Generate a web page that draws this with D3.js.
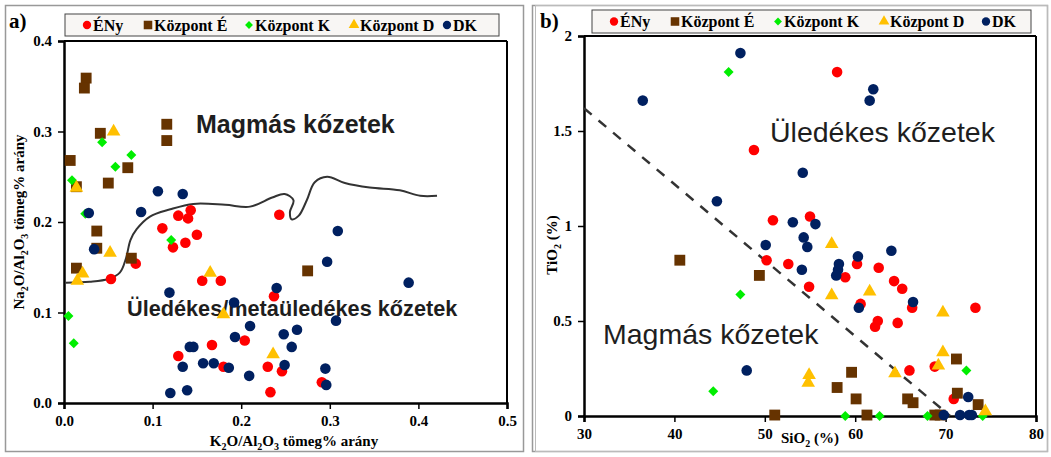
<!DOCTYPE html>
<html>
<head>
<meta charset="UTF-8">
<title>K2O/Al2O3 - TiO2 diagramok</title>
<style>
  body { margin: 0; background: #fff; }
  svg text { font-family: "Liberation Serif", "Times New Roman", serif; }
  .anno { font-family: "Liberation Sans", Arial, sans-serif; fill: #1e1e1e; }
</style>
</head>
<body>
<script src="https://cdn.jsdelivr.net/npm/d3@7"></script>
<script>
// ---- adatok: a) K2O/Al2O3 vs Na2O/Al2O3 ----
var seriesNames = ["ÉNy", "Központ É", "Központ K", "Központ D", "DK"]
var seriesColors = ["#ff0000", "#663300", "#00ee00", "#ffc000", "#002060"]

var aEny = [[0.143,0.213],[0.129,0.207],[0.140,0.204],[0.111,0.193],[0.150,0.186],[0.137,0.177],
  [0.123,0.172],[0.081,0.154],[0.053,0.137],[0.156,0.135],[0.177,0.135],[0.243,0.208],[0.237,0.118],
  [0.204,0.069],[0.167,0.064],[0.129,0.052],[0.180,0.040],[0.230,0.040],[0.246,0.035],[0.233,0.012],[0.291,0.023]]
var aKozE = [[0.025,0.359],[0.023,0.348],[0.041,0.298],[0.007,0.268],[0.072,0.260],[0.050,0.243],
  [0.014,0.239],[0.116,0.308],[0.116,0.290],[0.037,0.190],[0.037,0.171],[0.014,0.149],[0.076,0.160],[0.275,0.146]]
var aKozK = [[0.043,0.288],[0.076,0.274],[0.058,0.261],[0.009,0.246],[0.024,0.209],[0.005,0.096],
  [0.011,0.066],[0.121,0.180]]
var aKozD = [[0.056,0.301],[0.014,0.239],[0.052,0.167],[0.021,0.144],[0.015,0.136],[0.165,0.145],
  [0.180,0.099],[0.236,0.055]]
var aDK = [[0.106,0.234],[0.134,0.231],[0.087,0.211],[0.028,0.210],[0.034,0.170],[0.119,0.122],
  [0.192,0.111],[0.240,0.127],[0.309,0.190],[0.297,0.156],[0.389,0.133],[0.307,0.091],[0.210,0.085],
  [0.193,0.073],[0.263,0.081],[0.248,0.076],[0.257,0.062],[0.142,0.062],[0.146,0.062],[0.134,0.040],
  [0.157,0.044],[0.169,0.044],[0.186,0.039],[0.209,0.030],[0.249,0.042],[0.295,0.038],[0.296,0.020],
  [0.120,0.011],[0.139,0.014]]
// határvonal (magmás / üledékes)
var aBoundary = [[0.002,0.133],[0.029,0.134],[0.050,0.137],[0.063,0.144],[0.070,0.160],[0.075,0.180],
  [0.082,0.192],[0.097,0.206],[0.120,0.214],[0.146,0.220],[0.182,0.219],[0.210,0.217],[0.235,0.227],
  [0.249,0.231],[0.259,0.224],[0.255,0.211],[0.257,0.203],[0.265,0.207],[0.274,0.224],[0.283,0.244],
  [0.297,0.250],[0.317,0.243],[0.345,0.238],[0.379,0.235],[0.402,0.229],[0.421,0.229]]
var aXTicks = [0, 0.1, 0.2, 0.3, 0.4, 0.5]
var aYTicks = [0, 0.1, 0.2, 0.3, 0.4]

// ---- adatok: b) SiO2 vs TiO2 ----
var bEny = [[58.0,1.81],[48.8,1.40],[50.9,1.03],[55.0,1.05],[50.2,0.82],[52.6,0.80],[60.2,0.80],
  [58.9,0.73],[54.9,0.68],[62.6,0.78],[64.3,0.71],[65.2,0.67],[66.3,0.57],[60.6,0.59],[73.3,0.57],
  [62.5,0.50],[62.2,0.47],[64.7,0.49],[68.8,0.26],[66.0,0.24],[70.9,0.09]]
var bKozE = [[40.6,0.82],[49.4,0.74],[59.6,0.23],[58.0,0.15],[60.1,0.09],[65.8,0.09],[66.4,0.07],
  [71.2,0.30],[71.3,0.12],[73.6,0.06],[51.1,0.005],[61.3,0.005],[68.8,0.005],[69.4,0.005]]
var bKozK = [[46.0,1.81],[47.3,0.64],[44.3,0.13],[72.3,0.24],[58.9,0.0],[62.7,0.0],[68.0,0.0],[74.1,0.0]]
var bKozD = [[57.4,0.91],[57.4,0.64],[61.6,0.66],[69.7,0.55],[69.7,0.34],[69.2,0.27],[64.4,0.23],
  [54.9,0.22],[54.8,0.18],[74.4,0.03]]
var bDK = [[47.3,1.91],[36.5,1.66],[44.7,1.13],[62.0,1.72],[61.6,1.66],[54.2,1.28],[53.1,1.02],
  [55.6,1.01],[50.1,0.90],[54.3,0.94],[54.7,0.89],[60.3,0.84],[64.0,0.87],[54.1,0.77],[58.2,0.80],
  [58.1,0.77],[57.9,0.74],[66.4,0.60],[60.4,0.57],[48.0,0.24],[72.5,0.10],[69.8,0.005],[71.6,0.005],
  [72.6,0.005],[72.9,0.005]]
var bDivider = [[30, 1.62], [70.5, 0]]
var bXTicks = [30, 40, 50, 60, 70, 80]
var bYTicks = [0, 0.5, 1, 1.5, 2]

var W = 1051, H = 457
var svg = d3.select("body").append("svg").attr("width", W).attr("height", H)

// keretek
svg.append("rect").attr("x", 5.5).attr("y", 5.5).attr("width", 518).attr("height", 446)
  .attr("fill", "none").attr("stroke", "#999").attr("stroke-width", 1.5)
svg.append("rect").attr("x", 532.5).attr("y", 5.5).attr("width", 515).attr("height", 446)
  .attr("fill", "none").attr("stroke", "#999").attr("stroke-width", 1.5)
svg.append("rect").attr("x", 535.5).attr("y", 5.5).attr("width", 512).attr("height", 446)
  .attr("fill", "none").attr("stroke", "#bbb").attr("stroke-width", 1)

var symbolFor = [d3.symbolCircle, d3.symbolSquare, d3.symbolSquare, d3.symbolTriangle, d3.symbolCircle]
var sizeFor = [88, 118, 50, 80, 88]
var rotFor = [0, 0, 45, 0, 0]

function drawPanel(cfg) {
  var x = d3.scaleLinear().domain(cfg.xDomain).range([cfg.left, cfg.right])
  var y = d3.scaleLinear().domain(cfg.yDomain).range([cfg.bottom, cfg.top])
  var g = svg.append("g")

  // tengelyek
  g.append("g").attr("transform", "translate(0," + cfg.bottom + ")")
    .call(d3.axisBottom(x).tickValues(cfg.xTicks).tickFormat(cfg.xFmt).tickSize(6).tickPadding(6))
  g.append("g").attr("transform", "translate(" + cfg.left + ",0)")
    .call(d3.axisLeft(y).tickValues(cfg.yTicks).tickFormat(cfg.yFmt).tickSize(6).tickPadding(6))
  g.append("line").attr("x1", cfg.left).attr("x2", cfg.right).attr("y1", cfg.top).attr("y2", cfg.top)
    .attr("stroke", "#000").attr("stroke-width", 2)
  g.append("line").attr("x1", cfg.right).attr("x2", cfg.right).attr("y1", cfg.top).attr("y2", cfg.bottom)
    .attr("stroke", "#000").attr("stroke-width", 2)
  g.selectAll(".domain").attr("stroke-width", 2.5)
  g.selectAll(".tick line").attr("stroke-width", 1.5)
  g.selectAll(".tick text").attr("font-size", 15).attr("font-weight", "bold")
    .attr("font-family", "Liberation Serif")

  // szöveges címkék
  cfg.annos.forEach(function (a) {
    g.append("text").attr("class", "anno").attr("x", a.x).attr("y", a.y)
      .attr("font-size", a.size).attr("font-weight", a.bold ? "bold" : "normal")
      .attr("stroke", "#fff").attr("stroke-width", 4).attr("paint-order", "stroke")
      .text(a.t)
  })

  // vonal
  if (cfg.line) {
    g.append("path").datum(cfg.line.data)
      .attr("d", d3.line().x(function (d) { return x(d[0]) }).y(function (d) { return y(d[1]) })
        .curve(cfg.line.curve))
      .attr("fill", "none").attr("stroke", cfg.line.color).attr("stroke-width", cfg.line.width)
      .attr("stroke-dasharray", cfg.line.dash)
  }

  // pontok
  cfg.series.forEach(function (data, i) {
    g.append("g").selectAll("path").data(data).enter().append("path")
      .attr("d", d3.symbol().type(symbolFor[i]).size(sizeFor[i]))
      .attr("transform", function (d) {
        return "translate(" + x(d[0]) + "," + (y(d[1]) + (i == 3 ? 1 : 0)) + ") rotate(" + rotFor[i] + ")"
      })
      .attr("fill", seriesColors[i])
  })

  // jelmagyarázat
  var lg = g.append("g")
  lg.append("rect").attr("x", cfg.legend.x).attr("y", cfg.legend.y).attr("width", cfg.legend.w)
    .attr("height", cfg.legend.h).attr("fill", "#f8f6f4").attr("stroke", "#444").attr("stroke-width", 1)
  seriesNames.forEach(function (n, i) {
    var cx = cfg.legend.items[i], cy = cfg.legend.y + cfg.legend.h / 2
    lg.append("path")
      .attr("d", d3.symbol().type(symbolFor[i]).size(sizeFor[i] * 0.62))
      .attr("transform", "translate(" + cx + "," + cy + ") rotate(" + rotFor[i] + ")")
      .attr("fill", seriesColors[i])
    lg.append("text").attr("x", cx + 6).attr("y", cy + 5.5).attr("font-size", 16)
      .attr("font-weight", "bold").text(n)
  })

  // panel jelölés
  g.append("text").attr("x", cfg.tag.x).attr("y", cfg.tag.y).attr("font-size", 21)
    .attr("font-weight", "bold").text(cfg.tag.t)

  // tengelycímek
  var xt = g.append("text").attr("x", cfg.xTitle.x).attr("y", cfg.xTitle.y)
    .attr("text-anchor", "middle").attr("font-size", 15).attr("font-weight", "bold")
  addSub(xt, cfg.xTitle.parts)
  var yt = g.append("text")
    .attr("transform", "translate(" + cfg.yTitle.x + "," + cfg.yTitle.y + ") rotate(-90)")
    .attr("text-anchor", "middle").attr("font-size", 15).attr("font-weight", "bold")
  addSub(yt, cfg.yTitle.parts)
}

function addSub(t, parts) {
  parts.forEach(function (p) {
    if (p[1]) {
      t.append("tspan").attr("font-size", 10).attr("dy", 4).text(p[0])
    } else {
      t.append("tspan").attr("dy", p[2] ? -4 : 0).text(p[0])
    }
  })
}

drawPanel({
  xDomain: [0, 0.5], yDomain: [0, 0.4],
  left: 64, right: 507, top: 41, bottom: 403,
  xTicks: aXTicks, yTicks: aYTicks,
  xFmt: d3.format(".1f"), yFmt: d3.format(".1f"),
  series: [aEny, aKozE, aKozK, aKozD, aDK],
  line: { data: aBoundary, curve: d3.curveCatmullRom, color: "#333", width: 2, dash: null },
  annos: [
    { t: "Magmás kőzetek", x: 196, y: 133, size: 25, bold: true },
    { t: "Üledékes/metaüledékes kőzetek", x: 127, y: 316, size: 21.7, bold: true }
  ],
  legend: { x: 65, y: 14, w: 434, h: 22, items: [87, 148, 249, 354, 447] },
  tag: { t: "a)", x: 9, y: 28 },
  xTitle: { x: 294, y: 446, parts: [["K"], ["2", true], ["O/Al", false, true], ["2", true], ["O", false, true], ["3", true], [" tömeg% arány", false, true]] },
  yTitle: { x: 24, y: 222, parts: [["Na"], ["2", true], ["O/Al", false, true], ["2", true], ["O", false, true], ["3", true], [" tömeg% arány", false, true]] }
})

drawPanel({
  xDomain: [30, 80], yDomain: [0, 2],
  left: 584, right: 1036, top: 36, bottom: 416,
  xTicks: bXTicks, yTicks: bYTicks,
  xFmt: d3.format("d"), yFmt: function (d) { return String(d) },
  series: [bEny, bKozE, bKozK, bKozD, bDK],
  line: { data: bDivider, curve: d3.curveLinear, color: "#333", width: 2.5, dash: "10,9" },
  annos: [
    { t: "Üledékes kőzetek", x: 770, y: 142, size: 28.5, bold: false },
    { t: "Magmás kőzetek", x: 603, y: 344, size: 28.5, bold: false }
  ],
  legend: { x: 592, y: 10, w: 439, h: 23, items: [614, 675, 778, 884, 986] },
  tag: { t: "b)", x: 540, y: 28 },
  xTitle: { x: 810, y: 443, parts: [["SiO"], ["2", true], [" (%)", false, true]] },
  yTitle: { x: 557, y: 245, parts: [["TiO"], ["2", true], [" (%)", false, true]] }
})
</script>
</body>
</html>
